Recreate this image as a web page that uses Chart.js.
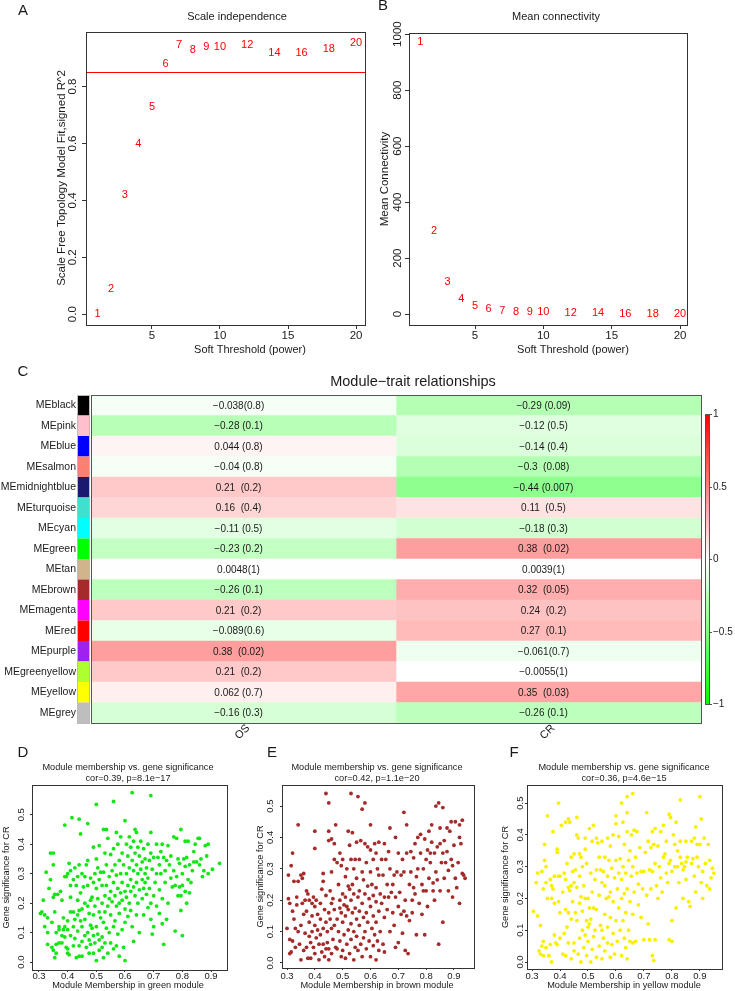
<!DOCTYPE html>
<html>
<head>
<meta charset="utf-8">
<script src="https://cdn.jsdelivr.net/npm/chart.js@4.4.1/dist/chart.umd.min.js"></script>
<style>
  body { margin: 0; background: #fff; }
  #page { position: relative; width: 735px; height: 991px; overflow: hidden; background: #fff; }
  #page canvas { position: absolute; left: 0; top: 0; }
</style>
</head>
<body>
<div id="page">
  <canvas id="cA" width="735" height="991"></canvas>
  <canvas id="cB" width="735" height="991"></canvas>
  <canvas id="cC" width="735" height="991"></canvas>
  <canvas id="cD" width="735" height="991"></canvas>
  <canvas id="cE" width="735" height="991"></canvas>
  <canvas id="cF" width="735" height="991"></canvas>
</div>
<script>
// ---- A / B : soft threshold selection ----
const powers = [1, 2, 3, 4, 5, 6, 7, 8, 9, 10, 12, 14, 16, 18, 20];
const scaleFitR2 = [0.0, 0.09, 0.42, 0.60, 0.73, 0.88, 0.947, 0.93, 0.94, 0.94, 0.947, 0.92, 0.92, 0.933, 0.954];
const meanConnectivity = [971, 296, 114, 54, 29, 18, 12, 9, 7, 6, 4, 3, 2, 2, 1];
const cutoffR2 = 0.85;
const powerTicks = ['5', '10', '15', '20'];
const r2Ticks = ['0.0', '0.2', '0.4', '0.6', '0.8'];
const kTicks = ['0', '200', '400', '600', '800', '1000'];

// ---- C : module-trait heatmap ----
const traits = ['OS', 'CR'];
const modules = ['MEblack', 'MEpink', 'MEblue', 'MEsalmon', 'MEmidnightblue', 'MEturquoise', 'MEcyan', 'MEgreen',
  'MEtan', 'MEbrown', 'MEmagenta', 'MEred', 'MEpurple', 'MEgreenyellow', 'MEyellow', 'MEgrey'];
const moduleColors = ['#000000', '#FFC0CB', '#0000FF', '#FA8072', '#191970', '#40E0D0', '#00FFFF', '#00FF00',
  '#D2B48C', '#A52A2A', '#FF00FF', '#FF0000', '#A020F0', '#ADFF2F', '#FFFF00', '#BEBEBE'];
const osCor = [-0.038, -0.28, 0.044, -0.04, 0.21, 0.16, -0.11, -0.23, 0.0048, -0.26, 0.21, -0.089, 0.38, 0.21, 0.062, -0.16];
const osP = ['0.8', '0.1', '0.8', '0.8', '0.2', '0.4', '0.5', '0.2', '1', '0.1', '0.2', '0.6', '0.02', '0.2', '0.7', '0.3'];
const crCor = [-0.29, -0.12, -0.14, -0.3, -0.44, 0.11, -0.18, 0.38, 0.0039, 0.32, 0.24, 0.27, -0.061, -0.0055, 0.35, -0.26];
const crP = ['0.09', '0.5', '0.4', '0.08', '0.007', '0.5', '0.3', '0.02', '1', '0.05', '0.2', '0.1', '0.7', '1', '0.03', '0.1'];
const legendTicks = ['1', '0.5', '0', '−0.5', '−1'];

// ---- D / E / F : module membership vs gene significance ----
const mmTicks = ['0.3', '0.4', '0.5', '0.6', '0.7', '0.8', '0.9'];
const gsTicks = ['0.0', '0.1', '0.2', '0.3', '0.4', '0.5'];
const greenPts = [
  [0.305,0.165],[0.31,0.17],[0.315,0.21],[0.32,0.12],[0.32,0.16],[0.325,0.305],[0.33,0.15],[0.33,0.10],[0.33,0.06],[0.335,0.25],
  [0.34,0.37],[0.34,0.28],[0.345,0.135],[0.345,0.05],[0.35,0.37],[0.35,0.33],[0.35,0.22],[0.35,0.04],[0.355,0.17],[0.355,0.23],
  [0.355,0.015],[0.36,0.10],[0.36,0.06],[0.36,0.03],[0.365,0.23],[0.37,0.12],[0.37,0.11],[0.37,0.065],[0.375,0.24],[0.38,0.21],
  [0.38,0.09],[0.38,0.065],[0.385,0.15],[0.385,0.11],[0.39,0.465],[0.39,0.29],[0.39,0.12],[0.39,0.085],[0.395,0.29],[0.395,0.05],
  [0.40,0.30],[0.40,0.14],[0.40,0.11],[0.40,0.045],[0.40,0.03],[0.405,0.335],[0.405,0.025],[0.41,0.31],[0.41,0.26],[0.41,0.22],
  [0.41,0.17],[0.41,0.09],[0.415,0.49],[0.42,0.28],[0.42,0.17],[0.42,0.12],[0.42,0.055],[0.425,0.32],[0.425,0.145],[0.425,0.08],
  [0.43,0.26],[0.43,0.015],[0.435,0.29],[0.435,0.21],[0.435,0.16],[0.435,0.105],[0.44,0.485],[0.44,0.33],[0.44,0.175],[0.44,0.055],
  [0.44,0.02],[0.445,0.435],[0.445,0.235],[0.445,0.14],[0.45,0.30],[0.45,0.18],[0.45,0.12],[0.45,0.07],[0.45,0.02],[0.455,0.255],
  [0.46,0.29],[0.46,0.20],[0.46,0.145],[0.46,0.09],[0.465,0.33],[0.465,0.05],[0.47,0.47],[0.47,0.345],[0.47,0.26],[0.47,0.19],
  [0.47,0.10],[0.475,0.165],[0.475,0.075],[0.475,0.03],[0.48,0.285],[0.48,0.21],[0.48,0.125],[0.48,0.06],[0.485,0.22],[0.485,0.115],
  [0.49,0.39],[0.49,0.27],[0.49,0.16],[0.49,0.09],[0.49,0.03],[0.495,0.30],[0.495,0.19],[0.495,0.065],[0.50,0.535],[0.50,0.35],
  [0.50,0.25],[0.50,0.12],[0.50,0.005],[0.505,0.32],[0.505,0.215],[0.505,0.095],[0.51,0.395],[0.51,0.28],[0.51,0.17],[0.51,0.075],
  [0.51,0.04],[0.515,0.305],[0.515,0.15],[0.52,0.26],[0.52,0.20],[0.52,0.085],[0.52,0.05],[0.525,0.45],[0.525,0.305],[0.525,0.135],
  [0.525,0.015],[0.53,0.37],[0.53,0.225],[0.53,0.17],[0.53,0.065],[0.535,0.45],[0.535,0.33],[0.535,0.26],[0.535,0.115],[0.54,0.42],
  [0.54,0.19],[0.54,0.03],[0.545,0.29],[0.545,0.215],[0.545,0.10],[0.55,0.365],[0.55,0.24],[0.55,0.16],[0.55,0.065],[0.555,0.31],
  [0.555,0.205],[0.56,0.545],[0.56,0.385],[0.56,0.27],[0.56,0.12],[0.56,0.045],[0.565,0.33],[0.565,0.225],[0.565,0.14],[0.57,0.44],
  [0.57,0.295],[0.57,0.19],[0.57,0.055],[0.575,0.40],[0.575,0.25],[0.575,0.095],[0.58,0.345],[0.58,0.20],[0.58,0.165],[0.58,0.02],
  [0.585,0.425],[0.585,0.30],[0.585,0.235],[0.59,0.37],[0.59,0.27],[0.59,0.21],[0.59,0.11],[0.595,0.33],[0.595,0.05],[0.60,0.48],
  [0.60,0.24],[0.60,0.18],[0.60,0.135],[0.60,0.005],[0.605,0.40],[0.605,0.30],[0.605,0.22],[0.61,0.36],[0.61,0.26],[0.61,0.155],
  [0.615,0.425],[0.615,0.32],[0.615,0.20],[0.62,0.39],[0.62,0.28],[0.62,0.24],[0.62,0.175],[0.625,0.575],[0.625,0.345],[0.625,0.12],
  [0.63,0.41],[0.63,0.31],[0.63,0.255],[0.63,0.07],[0.635,0.45],[0.635,0.37],[0.635,0.225],[0.64,0.44],[0.64,0.33],[0.64,0.27],
  [0.64,0.16],[0.645,0.39],[0.645,0.30],[0.645,0.20],[0.65,0.36],[0.65,0.245],[0.65,0.10],[0.655,0.41],[0.655,0.315],[0.66,0.34],
  [0.66,0.28],[0.66,0.215],[0.665,0.385],[0.665,0.25],[0.665,0.16],[0.67,0.35],[0.67,0.30],[0.67,0.27],[0.675,0.32],[0.675,0.23],
  [0.68,0.40],[0.68,0.285],[0.68,0.185],[0.685,0.345],[0.685,0.25],[0.69,0.565],[0.69,0.44],[0.69,0.37],[0.69,0.20],[0.69,0.145],
  [0.695,0.315],[0.695,0.095],[0.70,0.355],[0.70,0.225],[0.70,0.12],[0.705,0.27],[0.71,0.40],[0.71,0.30],[0.71,0.19],[0.715,0.355],
  [0.72,0.33],[0.72,0.245],[0.72,0.165],[0.725,0.375],[0.725,0.30],[0.73,0.40],[0.73,0.215],[0.73,0.13],[0.735,0.06],[0.735,0.355],
  [0.74,0.31],[0.74,0.27],[0.745,0.345],[0.745,0.145],[0.75,0.395],[0.75,0.20],[0.755,0.33],[0.76,0.285],[0.76,0.36],[0.765,0.255],
  [0.77,0.425],[0.77,0.31],[0.775,0.105],[0.775,0.26],[0.78,0.42],[0.78,0.29],[0.785,0.35],[0.785,0.225],[0.79,0.335],[0.79,0.255],
  [0.795,0.45],[0.795,0.225],[0.795,0.175],[0.80,0.09],[0.80,0.30],[0.80,0.26],[0.805,0.35],[0.81,0.41],[0.81,0.325],[0.81,0.24],
  [0.815,0.355],[0.815,0.20],[0.82,0.41],[0.82,0.28],[0.825,0.33],[0.825,0.235],[0.83,0.27],[0.835,0.31],[0.84,0.34],[0.84,0.375],
  [0.845,0.40],[0.85,0.34],[0.855,0.42],[0.86,0.42],[0.86,0.33],[0.865,0.35],[0.87,0.29],[0.875,0.31],[0.88,0.395],[0.885,0.36],
  [0.89,0.40],[0.89,0.30],[0.905,0.315],[0.93,0.335]
];
const brownPts = [
  [0.30,0.11],[0.305,0.205],[0.305,0.28],[0.31,0.19],[0.31,0.075],[0.31,0.03],[0.315,0.31],[0.315,0.035],[0.32,0.35],[0.32,0.165],
  [0.32,0.07],[0.325,0.26],[0.325,0.14],[0.33,0.11],[0.33,0.05],[0.335,0.21],[0.335,0.185],[0.34,0.44],[0.34,0.26],[0.34,0.10],
  [0.345,0.06],[0.35,0.28],[0.35,0.12],[0.35,0.01],[0.355,0.27],[0.355,0.19],[0.36,0.285],[0.36,0.155],[0.36,0.04],[0.365,0.20],
  [0.365,0.095],[0.37,0.23],[0.37,0.165],[0.37,0.05],[0.375,0.22],[0.375,0.015],[0.38,0.20],[0.38,0.13],[0.38,0.085],[0.385,0.065],
  [0.385,0.015],[0.39,0.19],[0.39,0.15],[0.39,0.10],[0.395,0.21],[0.395,0.05],[0.40,0.42],[0.40,0.365],[0.40,0.18],[0.40,0.12],
  [0.40,0.03],[0.405,0.20],[0.405,0.08],[0.41,0.155],[0.41,0.105],[0.415,0.06],[0.415,0.01],[0.42,0.19],[0.42,0.14],[0.42,0.09],
  [0.425,0.235],[0.425,0.035],[0.43,0.285],[0.43,0.26],[0.43,0.11],[0.43,0.06],[0.435,0.17],[0.435,0.02],[0.44,0.54],[0.44,0.215],
  [0.44,0.13],[0.44,0.045],[0.445,0.10],[0.445,0.065],[0.45,0.51],[0.45,0.42],[0.45,0.39],[0.45,0.16],[0.45,0.045],[0.45,0.01],
  [0.455,0.23],[0.455,0.14],[0.46,0.395],[0.46,0.29],[0.46,0.19],[0.46,0.11],[0.46,0.03],[0.465,0.205],[0.465,0.075],[0.47,0.38],
  [0.47,0.33],[0.47,0.17],[0.47,0.12],[0.475,0.44],[0.475,0.05],[0.48,0.32],[0.48,0.14],[0.48,0.045],[0.485,0.25],[0.485,0.10],
  [0.49,0.35],[0.49,0.20],[0.49,0.175],[0.49,0.07],[0.495,0.31],[0.495,0.16],[0.495,0.02],[0.50,0.33],[0.50,0.22],[0.50,0.13],
  [0.50,0.04],[0.505,0.185],[0.505,0.09],[0.51,0.275],[0.51,0.21],[0.51,0.15],[0.51,0.015],[0.515,0.30],[0.515,0.18],[0.515,0.06],
  [0.52,0.42],[0.52,0.245],[0.52,0.17],[0.52,0.105],[0.525,0.375],[0.525,0.235],[0.525,0.03],[0.53,0.54],[0.53,0.33],[0.53,0.20],
  [0.53,0.125],[0.53,0.075],[0.535,0.415],[0.535,0.25],[0.535,0.16],[0.54,0.30],[0.54,0.22],[0.54,0.10],[0.54,0.01],[0.545,0.33],
  [0.545,0.175],[0.545,0.05],[0.55,0.385],[0.55,0.27],[0.55,0.14],[0.55,0.085],[0.555,0.53],[0.555,0.21],[0.555,0.04],[0.56,0.33],
  [0.56,0.23],[0.56,0.165],[0.56,0.12],[0.565,0.39],[0.565,0.06],[0.57,0.49],[0.57,0.29],[0.57,0.19],[0.57,0.02],[0.575,0.265],
  [0.575,0.145],[0.575,0.08],[0.58,0.51],[0.58,0.38],[0.58,0.22],[0.58,0.10],[0.585,0.32],[0.585,0.16],[0.585,0.045],[0.59,0.37],
  [0.59,0.245],[0.59,0.13],[0.595,0.205],[0.595,0.07],[0.60,0.44],[0.60,0.36],[0.60,0.29],[0.60,0.18],[0.60,0.02],[0.605,0.25],
  [0.605,0.11],[0.61,0.33],[0.61,0.215],[0.61,0.15],[0.61,0.055],[0.615,0.38],[0.615,0.09],[0.62,0.35],[0.62,0.24],[0.62,0.195],
  [0.62,0.13],[0.62,0.01],[0.625,0.30],[0.625,0.07],[0.63,0.385],[0.63,0.28],[0.63,0.165],[0.63,0.04],[0.635,0.22],[0.635,0.10],
  [0.64,0.33],[0.64,0.19],[0.645,0.28],[0.645,0.06],[0.65,0.38],[0.65,0.21],[0.65,0.145],[0.65,0.035],[0.655,0.33],[0.66,0.25],
  [0.66,0.17],[0.665,0.355],[0.665,0.21],[0.67,0.43],[0.67,0.30],[0.67,0.10],[0.675,0.225],[0.68,0.25],[0.68,0.16],[0.685,0.28],
  [0.685,0.12],[0.69,0.40],[0.69,0.21],[0.69,0.05],[0.695,0.29],[0.70,0.35],[0.70,0.18],[0.70,0.065],[0.705,0.225],[0.71,0.28],
  [0.71,0.155],[0.715,0.33],[0.715,0.095],[0.72,0.48],[0.72,0.29],[0.72,0.165],[0.725,0.20],[0.725,0.04],[0.73,0.44],[0.73,0.35],
  [0.73,0.15],[0.735,0.03],[0.74,0.25],[0.74,0.135],[0.745,0.355],[0.745,0.29],[0.75,0.20],[0.75,0.16],[0.755,0.335],[0.755,0.24],
  [0.76,0.38],[0.76,0.22],[0.765,0.275],[0.765,0.09],[0.77,0.40],[0.77,0.30],[0.775,0.19],[0.78,0.41],[0.78,0.35],[0.785,0.25],
  [0.785,0.155],[0.79,0.30],[0.79,0.23],[0.795,0.395],[0.795,0.09],[0.80,0.33],[0.80,0.23],[0.805,0.36],[0.805,0.18],[0.81,0.42],
  [0.81,0.27],[0.815,0.35],[0.815,0.32],[0.82,0.44],[0.82,0.385],[0.825,0.255],[0.825,0.23],[0.83,0.35],[0.83,0.20],[0.835,0.50],
  [0.835,0.29],[0.84,0.37],[0.84,0.265],[0.845,0.51],[0.845,0.06],[0.85,0.43],[0.85,0.38],[0.85,0.23],[0.855,0.32],[0.86,0.495],
  [0.86,0.35],[0.86,0.13],[0.865,0.39],[0.865,0.27],[0.87,0.32],[0.875,0.43],[0.875,0.355],[0.88,0.23],[0.88,0.295],[0.885,0.42],
  [0.89,0.45],[0.89,0.33],[0.895,0.31],[0.895,0.21],[0.90,0.375],[0.905,0.45],[0.905,0.27],[0.91,0.24],[0.915,0.32],[0.92,0.44],
  [0.92,0.40],[0.92,0.19],[0.925,0.38],[0.93,0.455],[0.93,0.285],[0.935,0.28],[0.94,0.27]
];
const yellowPts = [
  [0.305,0.16],[0.315,0.25],[0.32,0.28],[0.32,0.145],[0.325,0.035],[0.33,0.115],[0.33,0.025],[0.335,0.05],[0.335,0.285],[0.34,0.23],
  [0.34,0.065],[0.34,0.02],[0.345,0.37],[0.345,0.32],[0.35,0.30],[0.35,0.25],[0.35,0.045],[0.355,0.46],[0.355,0.20],[0.36,0.02],
  [0.365,0.26],[0.365,0.055],[0.37,0.24],[0.37,0.20],[0.37,0.0],[0.375,0.41],[0.375,0.23],[0.38,0.27],[0.38,0.185],[0.38,0.085],
  [0.385,0.06],[0.39,0.355],[0.39,0.345],[0.39,0.055],[0.395,0.50],[0.395,0.27],[0.395,0.19],[0.40,0.27],[0.40,0.155],[0.40,0.075],
  [0.405,0.43],[0.41,0.22],[0.41,0.025],[0.415,0.28],[0.415,0.09],[0.42,0.44],[0.42,0.26],[0.42,0.165],[0.42,0.02],[0.425,0.31],
  [0.425,0.11],[0.43,0.45],[0.43,0.235],[0.43,0.155],[0.43,0.06],[0.435,0.44],[0.435,0.225],[0.44,0.33],[0.44,0.24],[0.44,0.135],
  [0.44,0.01],[0.445,0.285],[0.445,0.19],[0.45,0.34],[0.45,0.25],[0.45,0.06],[0.45,0.035],[0.455,0.29],[0.455,0.155],[0.46,0.455],
  [0.46,0.40],[0.46,0.235],[0.46,0.13],[0.465,0.39],[0.465,0.025],[0.47,0.34],[0.47,0.27],[0.47,0.185],[0.47,0.075],[0.475,0.33],
  [0.475,0.205],[0.475,0.0],[0.48,0.30],[0.48,0.16],[0.48,0.10],[0.485,0.24],[0.485,0.045],[0.49,0.39],[0.49,0.355],[0.49,0.20],
  [0.49,0.085],[0.495,0.31],[0.495,0.13],[0.495,0.02],[0.50,0.20],[0.50,0.11],[0.50,0.065],[0.505,0.42],[0.505,0.17],[0.505,0.12],
  [0.51,0.28],[0.51,0.135],[0.51,0.0],[0.515,0.38],[0.515,0.22],[0.515,0.04],[0.52,0.43],[0.52,0.17],[0.52,0.08],[0.525,0.26],
  [0.525,0.10],[0.53,0.39],[0.53,0.29],[0.53,0.165],[0.53,0.015],[0.535,0.375],[0.54,0.33],[0.54,0.21],[0.54,0.05],[0.545,0.29],
  [0.545,0.115],[0.55,0.38],[0.55,0.25],[0.55,0.10],[0.55,0.01],[0.555,0.285],[0.555,0.075],[0.56,0.33],[0.56,0.24],[0.56,0.15],
  [0.56,0.035],[0.565,0.20],[0.57,0.39],[0.57,0.27],[0.57,0.11],[0.57,0.06],[0.575,0.32],[0.575,0.205],[0.58,0.365],[0.58,0.22],
  [0.58,0.14],[0.58,0.015],[0.585,0.295],[0.585,0.055],[0.59,0.40],[0.59,0.19],[0.59,0.09],[0.595,0.265],[0.595,0.025],[0.60,0.46],
  [0.60,0.435],[0.60,0.32],[0.60,0.13],[0.605,0.23],[0.605,0.065],[0.61,0.395],[0.61,0.28],[0.61,0.17],[0.615,0.325],[0.615,0.10],
  [0.62,0.50],[0.62,0.26],[0.62,0.20],[0.62,0.02],[0.625,0.44],[0.625,0.30],[0.625,0.13],[0.63,0.37],[0.63,0.215],[0.63,0.075],
  [0.635,0.28],[0.635,0.155],[0.635,0.045],[0.64,0.52],[0.64,0.47],[0.64,0.41],[0.64,0.23],[0.64,0.01],[0.645,0.32],[0.645,0.10],
  [0.65,0.35],[0.65,0.19],[0.65,0.065],[0.655,0.40],[0.655,0.27],[0.66,0.53],[0.66,0.30],[0.66,0.15],[0.66,0.06],[0.665,0.415],
  [0.665,0.22],[0.67,0.33],[0.67,0.065],[0.675,0.41],[0.675,0.28],[0.68,0.245],[0.68,0.18],[0.685,0.36],[0.69,0.285],[0.69,0.14],
  [0.695,0.23],[0.70,0.285],[0.70,0.07],[0.705,0.345],[0.71,0.47],[0.71,0.21],[0.715,0.38],[0.715,0.12],[0.72,0.29],[0.72,0.07],
  [0.725,0.36],[0.725,0.23],[0.73,0.41],[0.73,0.285],[0.73,0.02],[0.735,0.37],[0.735,0.005],[0.74,0.42],[0.74,0.31],[0.74,0.07],
  [0.745,0.24],[0.75,0.365],[0.75,0.20],[0.755,0.30],[0.76,0.41],[0.76,0.265],[0.765,0.22],[0.77,0.43],[0.77,0.33],[0.775,0.34],
  [0.78,0.38],[0.78,0.28],[0.785,0.25],[0.79,0.465],[0.79,0.31],[0.79,0.07],[0.795,0.455],[0.795,0.32],[0.80,0.285],[0.80,0.13],
  [0.80,0.065],[0.805,0.40],[0.81,0.37],[0.81,0.30],[0.815,0.44],[0.815,0.17],[0.82,0.35],[0.82,0.30],[0.825,0.25],[0.83,0.51],
  [0.83,0.38],[0.83,0.33],[0.835,0.31],[0.84,0.29],[0.84,0.20],[0.845,0.30],[0.85,0.38],[0.85,0.315],[0.85,0.26],[0.855,0.33],
  [0.86,0.19],[0.865,0.175],[0.87,0.38],[0.87,0.31],[0.875,0.325],[0.88,0.39],[0.88,0.27],[0.885,0.425],[0.885,0.22],[0.89,0.37],
  [0.89,0.33],[0.895,0.30],[0.90,0.52],[0.90,0.37],[0.905,0.45],[0.905,0.25],[0.91,0.285],[0.91,0.20],[0.915,0.39],[0.92,0.31],
  [0.925,0.24],[0.93,0.37],[0.935,0.23],[0.935,0.32],[0.94,0.265],[0.945,0.295],[0.95,0.28]
];

const FONT = '"Liberation Sans", Arial, Helvetica, sans-serif';
const INK = '#1a1a1a';
const num = s => parseFloat(s.replace('−', '-'));

// R-like axis: only tick marks from Chart.js, labels drawn by the frame plugin
function rAxis(min, max, labels, tick) {
  return {
    type: 'linear', min, max,
    afterBuildTicks: s => { s.ticks = labels.map(l => ({ value: num(l) })); },
    afterFit: s => { if (s.isHorizontal()) s.height = 0; else s.width = 0; },
    ticks: { display: false },
    grid: { drawOnChartArea: false, drawTicks: true, tickLength: tick, color: '#333', lineWidth: 1 },
    border: { display: false }
  };
}

// box round the plot + tick labels (y ones turned like R's las=0)
function frame(o) {
  return {
    id: 'frame',
    afterDraw(chart) {
      const ctx = chart.ctx, a = chart.chartArea, xs = chart.scales.x, ys = chart.scales.y;
      ctx.save();
      ctx.strokeStyle = '#333';
      ctx.lineWidth = 1;
      ctx.strokeRect(Math.round(a.left) + 0.5, Math.round(a.top) + 0.5, Math.round(a.right - a.left), Math.round(a.bottom - a.top));
      ctx.fillStyle = INK;
      ctx.font = o.size + 'px ' + FONT;
      ctx.textAlign = 'center';
      ctx.textBaseline = 'middle';
      o.xLabels.forEach(l => ctx.fillText(l, xs.getPixelForValue(num(l)), o.xLabelY));
      o.yLabels.forEach(l => {
        ctx.save();
        ctx.translate(o.yLabelX, ys.getPixelForValue(num(l)));
        ctx.rotate(-Math.PI / 2);
        ctx.fillText(l, 0, 0);
        ctx.restore();
      });
      ctx.restore();
    }
  };
}

// free text: titles, axis titles, panel letters
function texts(items) {
  return {
    id: 'texts',
    afterDraw(chart) {
      const ctx = chart.ctx;
      items.forEach(t => {
        ctx.save();
        ctx.font = t.s + 'px ' + FONT;
        ctx.fillStyle = t.c || INK;
        ctx.textAlign = t.a || 'center';
        ctx.textBaseline = 'middle';
        ctx.translate(t.x, t.y);
        if (t.r) ctx.rotate(t.r * Math.PI / 180);
        ctx.fillText(t.t, 0, 0);
        ctx.restore();
      });
    }
  };
}

// the numbers of panels A and B are written at the points
const powerText = {
  id: 'powerText',
  afterDatasetsDraw(chart) {
    const ctx = chart.ctx;
    ctx.save();
    ctx.fillStyle = '#FF0000';
    ctx.font = '11px ' + FONT;
    ctx.textAlign = 'center';
    ctx.textBaseline = 'middle';
    chart.getDatasetMeta(0).data.forEach((pt, i) => ctx.fillText(String(powers[i]), pt.x, pt.y));
    ctx.restore();
  }
};

const cutoffLine = {
  id: 'cutoffLine',
  beforeDatasetsDraw(chart) {
    const ctx = chart.ctx, a = chart.chartArea;
    const y = Math.round(chart.scales.y.getPixelForValue(cutoffR2)) + 0.5;
    ctx.save();
    ctx.strokeStyle = '#FF0000';
    ctx.lineWidth = 1;
    ctx.beginPath();
    ctx.moveTo(a.left, y);
    ctx.lineTo(a.right, y);
    ctx.stroke();
    ctx.restore();
  }
};

function pad(area) {
  return { left: area[0], top: area[1], right: 735 - area[2], bottom: 991 - area[3] };
}

function rChart(id, datasets, area, xr, yr, xLabels, yLabels, fr, items, extra) {
  return new Chart(document.getElementById(id), {
    type: 'scatter',
    data: { datasets },
    options: {
      responsive: false,
      animation: false,
      events: [],
      layout: { padding: pad(area) },
      plugins: { legend: { display: false }, tooltip: { enabled: false } },
      scales: { x: rAxis(xr[0], xr[1], xLabels, fr.tick), y: rAxis(yr[0], yr[1], yLabels, fr.tick) }
    },
    plugins: [frame(Object.assign({ xLabels, yLabels }, fr)), texts(items)].concat(extra || [])
  });
}

// Panel A
rChart('cA',
  [{ data: powers.map((p, i) => ({ x: p, y: scaleFitR2[i] })), pointRadius: 0 }],
  [86, 32, 365, 325], [0.15, 20.66], [-0.038, 0.992], powerTicks, r2Ticks,
  { size: 11.5, tick: 4, xLabelY: 336, yLabelX: 73 },
  [
    { t: 'A', x: 23, y: 11, s: 15 },
    { t: 'Scale independence', x: 237, y: 17, s: 11 },
    { t: 'Soft Threshold (power)', x: 250, y: 350, s: 11 },
    { t: 'Scale Free Topology Model Fit,signed R^2', x: 62, y: 178, s: 11.5, r: -90 }
  ],
  [cutoffLine, powerText]);

// Panel B
rChart('cB',
  [{ data: powers.map((p, i) => ({ x: p, y: meanConnectivity[i] })), pointRadius: 0 }],
  [409, 33, 687, 325], [0.17, 20.51], [-39, 1004], powerTicks, kTicks,
  { size: 11.5, tick: 4, xLabelY: 336, yLabelX: 398 },
  [
    { t: 'B', x: 383, y: 6, s: 15 },
    { t: 'Mean connectivity', x: 556, y: 17, s: 11 },
    { t: 'Soft Threshold (power)', x: 573, y: 350, s: 11 },
    { t: 'Mean Connectivity', x: 385, y: 179, s: 11.5, r: -90 }
  ],
  [powerText]);

// Panel C: module-trait heatmap
function heat(v) {
  const f = Math.min(1, Math.abs(v));
  const c = Math.round(255 * (1 - f));
  return v >= 0 ? `rgb(255,${c},${c})` : `rgb(${c},255,${c})`;
}
function cellText(c, p) {
  const s = String(c).replace('-', '−');
  const gap = s.length <= 4 ? '  ' : (s.length === 5 ? ' ' : '');
  return s + gap + '(' + p + ')';
}
const cellLabels = [osCor.map((c, i) => cellText(c, osP[i])), crCor.map((c, i) => cellText(c, crP[i]))];

const heatDecor = {
  id: 'heatDecor',
  afterDraw(chart) {
    const ctx = chart.ctx, a = chart.chartArea, ys = chart.scales.y;
    ctx.save();
    // row names, then the module colour strip
    ctx.font = '10.5px ' + FONT;
    ctx.textBaseline = 'middle';
    ctx.textAlign = 'right';
    ctx.fillStyle = INK;
    modules.forEach((m, i) => ctx.fillText(m, 76, ys.getPixelForValue(i)));
    modules.forEach((m, i) => {
      const y0 = ys.getPixelForValue(i - 0.5), y1 = ys.getPixelForValue(i + 0.5);
      ctx.fillStyle = moduleColors[i];
      ctx.fillRect(78, y0, 11, y1 - y0);
    });
    ctx.strokeStyle = '#bbb';
    ctx.strokeRect(77.5, Math.round(a.top) + 0.5, 12, Math.round(a.bottom - a.top));
    // cell texts
    ctx.fillStyle = INK;
    ctx.font = '10px ' + FONT;
    ctx.textAlign = 'center';
    chart.data.datasets.forEach((ds, d) => {
      chart.getDatasetMeta(d).data.forEach((el, i) => {
        ctx.fillText(cellLabels[d][i], (el.x + el.base) / 2 - 5, el.y + 0.5);
      });
    });
    // frame
    ctx.strokeStyle = '#555';
    ctx.strokeRect(Math.round(a.left) + 0.5, Math.round(a.top) + 0.5, Math.round(a.right - a.left), Math.round(a.bottom - a.top));
    // trait names, turned 45 degrees
    ctx.font = '11px ' + FONT;
    traits.forEach((t, k) => {
      const x = chart.scales.x.getPixelForValue(k + 0.5) - 1;
      ctx.save();
      ctx.translate(x, 732);
      ctx.rotate(-Math.PI / 4);
      ctx.fillText(t, 0, 0);
      ctx.restore();
    });
    // colour key
    const top = 414, bot = 704, l = 705, w = 4;
    const g = ctx.createLinearGradient(0, top, 0, bot);
    g.addColorStop(0, '#FF0000');
    g.addColorStop(0.5, '#FFFFFF');
    g.addColorStop(1, '#00FF00');
    ctx.fillStyle = g;
    ctx.fillRect(l, top, w, bot - top);
    ctx.strokeStyle = '#555';
    ctx.strokeRect(l + 0.5, top + 0.5, w, bot - top);
    ctx.fillStyle = INK;
    ctx.font = '10px ' + FONT;
    ctx.textAlign = 'left';
    legendTicks.forEach(lb => {
      const y = Math.round(top + (1 - num(lb)) / 2 * (bot - top)) + 0.5;
      ctx.beginPath();
      ctx.moveTo(l + w, y);
      ctx.lineTo(l + w + 3, y);
      ctx.stroke();
      ctx.fillText(lb, l + w + 4, y);
    });
    ctx.restore();
  }
};

new Chart(document.getElementById('cC'), {
  type: 'bar',
  data: {
    labels: modules,
    datasets: traits.map((t, k) => ({
      label: t,
      data: modules.map(() => [k, k + 1]),
      backgroundColor: (k === 0 ? osCor : crCor).map(heat),
      borderWidth: 0
    }))
  },
  options: {
    indexAxis: 'y',
    responsive: false,
    animation: false,
    events: [],
    layout: { padding: pad([91, 395, 701, 723]) },
    plugins: { legend: { display: false }, tooltip: { enabled: false } },
    datasets: { bar: { barPercentage: 1, categoryPercentage: 1, grouped: false } },
    scales: {
      x: { type: 'linear', min: 0, max: 2, display: false },
      y: { type: 'category', display: false }
    }
  },
  plugins: [heatDecor, texts([
    { t: 'C', x: 23, y: 372, s: 15 },
    { t: 'Module−trait relationships', x: 413, y: 382, s: 14.5 }
  ])]
});

// Panels D, E, F
function mmPanel(id, pts, color, area, xr, yr, fr, letter, lx, cx, stats, moduleName, yTitleX) {
  rChart(id,
    [{ data: pts.map(([x, y]) => ({ x, y })), pointRadius: 1.9, pointBorderWidth: 0, backgroundColor: color }],
    area, xr, yr, mmTicks, gsTicks, fr,
    [
      { t: letter, x: lx, y: 753, s: 15 },
      { t: 'Module membership vs. gene significance', x: cx, y: 767, s: 9.2 },
      { t: stats, x: cx, y: 778, s: 9.2 },
      { t: 'Module Membership in ' + moduleName + ' module', x: cx, y: 985, s: 9.2 },
      { t: 'Gene significance for CR', x: yTitleX, y: (area[1] + area[3]) / 2, s: 9.2, r: -90 }
    ]);
}

mmPanel('cD', greenPts, '#11E611', [32, 785, 227, 970], [0.2756, 0.9558], [-0.027, 0.601],
  { size: 9.5, tick: 2, xLabelY: 976, yLabelX: 21 }, 'D', 23, 128, 'cor=0.39, p=8.1e−17', 'green', 6);
mmPanel('cE', brownPts, '#A52A2A', [282, 785, 474, 968], [0.282, 0.972], [-0.016, 0.567],
  { size: 9.5, tick: 2, xLabelY: 976, yLabelX: 270 }, 'E', 272, 377, 'cor=0.42, p=1.1e−20', 'brown', 260);
mmPanel('cF', yellowPts, '#F8F000', [527, 785, 722, 969], [0.282, 0.979], [-0.022, 0.557],
  { size: 9.5, tick: 2, xLabelY: 976, yLabelX: 520 }, 'F', 514, 624, 'cor=0.36, p=4.6e−15', 'yellow', 505);
</script>
</body>
</html>
